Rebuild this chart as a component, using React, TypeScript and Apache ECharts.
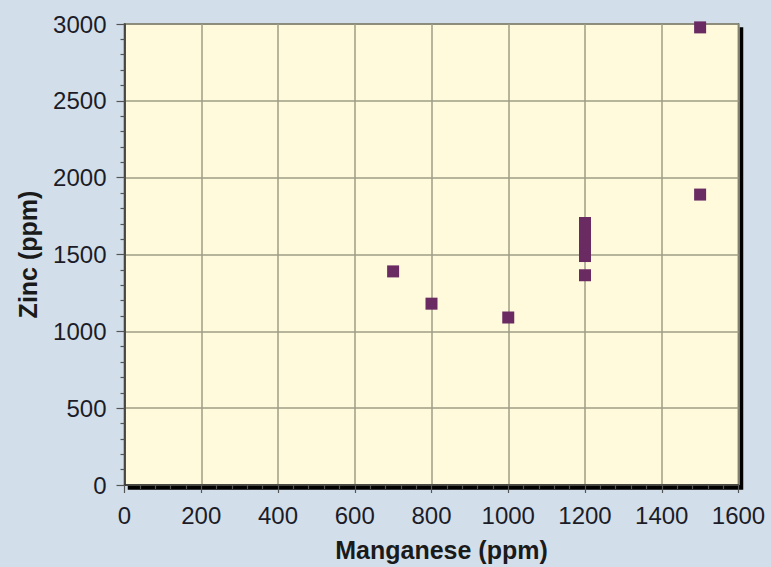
import React, { useEffect, useRef } from "react";
import * as echarts from "echarts";

const manganese = [700, 800, 1000, 1200, 1200, 1200, 1200, 1200, 1200, 1500, 1500];
const zinc = [1390, 1180, 1090, 1365, 1490, 1545, 1600, 1650, 1705, 1890, 2978];
const xTicks = { min: 0, max: 1600, interval: 200 };
const yTicks = { min: 0, max: 3000, interval: 500 };

const FONT = '"Liberation Sans", Arial, Helvetica, sans-serif';

export default function App() {
  const ref = useRef<HTMLDivElement>(null);
  useEffect(() => {
    if (!ref.current) return;
    const chart = echarts.init(ref.current, undefined, { renderer: "svg" });
    const tickStyle = { lineStyle: { color: "#555", width: 1.2 } };
    const fmt = (v: number) => String(v);
    chart.setOption({
      animation: false,
      backgroundColor: "#d2dfeb",
      grid: {
        left: 124.5,
        top: 24,
        width: 614,
        height: 461,
        show: true,
        backgroundColor: "#fffadc",
        borderColor: "#333",
        borderWidth: 1.5,
        shadowColor: "#000",
        shadowOffsetX: 4,
        shadowOffsetY: 4,
        shadowBlur: 0,
      },
      xAxis: {
        type: "value",
        min: xTicks.min,
        max: xTicks.max,
        interval: xTicks.interval,
        name: "Manganese (ppm)",
        nameLocation: "middle",
        nameGap: 52,
        nameTextStyle: {
          fontFamily: FONT,
          fontSize: 25,
          fontWeight: "bold",
          color: "#1a1a1a",
          padding: [0, 0, 0, 20],
        },
        axisLine: { show: true, lineStyle: { color: "#333", width: 1.5 } },
        axisTick: { show: true, inside: false, length: 8, ...tickStyle },
        minorTick: { show: true, splitNumber: 5, length: 4, ...tickStyle },
        axisLabel: { fontFamily: FONT, fontSize: 24, color: "#1c1c28", margin: 18, formatter: fmt },
        splitLine: { show: true, lineStyle: { color: "#9e9c86", width: 1.5 } },
      },
      yAxis: {
        type: "value",
        min: yTicks.min,
        max: yTicks.max,
        interval: yTicks.interval,
        name: "Zinc (ppm)",
        nameLocation: "middle",
        nameGap: 84,
        nameTextStyle: { fontFamily: FONT, fontSize: 25, fontWeight: "bold", color: "#1a1a1a" },
        axisLine: { show: true, lineStyle: { color: "#333", width: 1.5 } },
        axisTick: { show: true, inside: false, length: 8, ...tickStyle },
        minorTick: { show: true, splitNumber: 5, length: 4, ...tickStyle },
        axisLabel: { fontFamily: FONT, fontSize: 24, color: "#1c1c28", margin: 18, formatter: fmt },
        splitLine: { show: true, lineStyle: { color: "#9e9c86", width: 1.5 } },
      },
      series: [
        {
          type: "scatter",
          symbol: "rect",
          symbolSize: 12,
          itemStyle: { color: "#6a2a62", opacity: 1 },
          data: manganese.map((m, i) => [m, zinc[i]]),
        },
      ],
    });
    return () => chart.dispose();
  }, []);
  return (
    <div
      ref={ref}
      style={{ position: "absolute", left: 0, top: 0, width: 771, height: 567 }}
    />
  );
}
